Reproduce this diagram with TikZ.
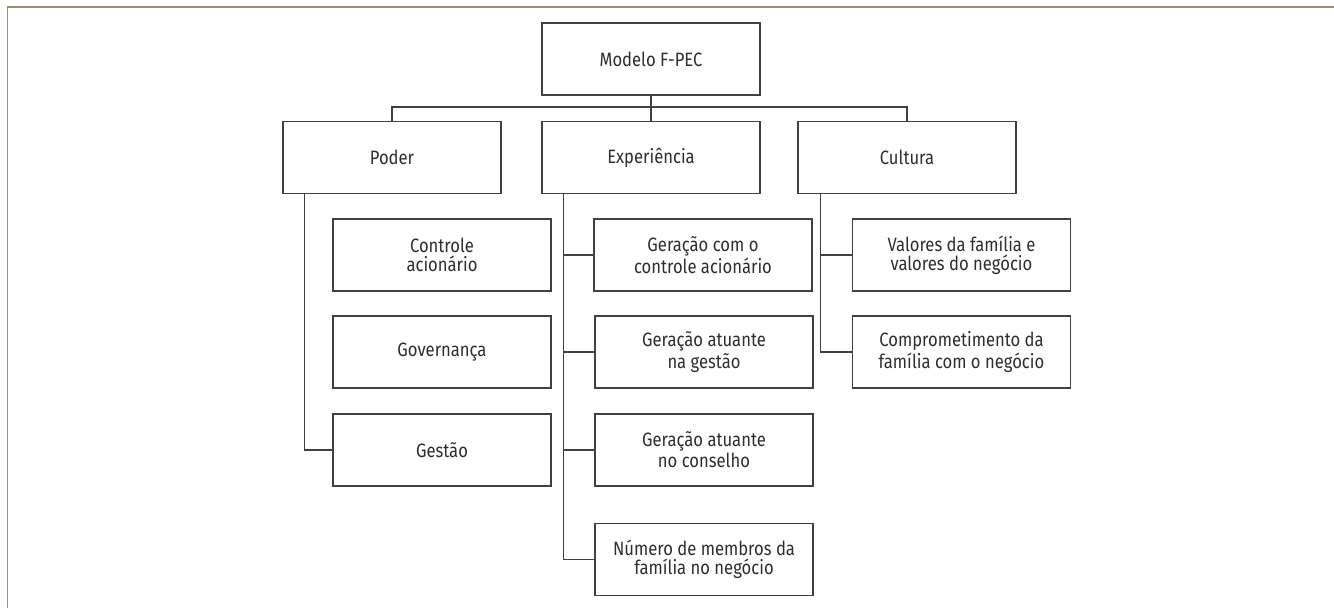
\documentclass[tikz,border=0pt]{standalone}
\usepackage{fontspec}
\setmainfont[FakeStretch=0.86]{Fira Sans}
\usepackage{xcolor}
\usepackage{tikz}
\definecolor{framecol}{HTML}{A08B70}
\definecolor{inkcol}{HTML}{2E2E2E}

\begin{document}
\begin{tikzpicture}[x=0.02cm, y=-0.02cm,
  box/.style={draw=black!75, line width=0.65pt, text=inkcol, align=center, inner sep=0pt,
    minimum width=4.36cm, minimum height=1.44cm, font=\fontsize{11}{10.9}\selectfont},
  link/.style={draw=black!75, line width=0.65pt}]
\useasboundingbox (0,0) rectangle (1334,608);
\draw[framecol, line width=1pt] (7.5,608) -- (7.5,6.7) -- (1334,6.7);

\node[box] (modelo) at (651,59) {Modelo F-PEC};
\node[box] (poder) at (392,157.5) {Poder};
\node[box] (exp) at (651,157.5) {Experiência};
\node[box] (cult) at (907,157.5) {Cultura};

\node[box] (controle) at (442,255) {Controle\\acionário};
\node[box] (governanca) at (442,352) {Governança};
\node[box] (gestao) at (442,450) {Gestão};

\node[box] (gcontrole) at (703,255) {Geração com o\\controle acionário};
\node[box] (ggestao) at (704,352) {Geração atuante\\na gestão};
\node[box] (gconselho) at (704,450) {Geração atuante\\no conselho};
\node[box] (membros) at (704,559.5) {Número de membros da\\família no negócio};

\node[box] (valores) at (961.5,255) {Valores da família e\\valores do negócio};
\node[box] (compr) at (961.5,352) {Comprometimento da\\família com o negócio};

\coordinate (bus) at (651,107);
\draw[link] (poder.north) |- (bus) -| (cult.north);
\draw[link] (modelo.south) -- (exp.north);

\draw[link] ([xshift=0.44cm]poder.south west) |- (gestao.west);
\foreach \n in {gcontrole,ggestao,gconselho,membros}
  \draw[link] ([xshift=0.44cm]exp.south west) |- (\n.west);
\foreach \n in {valores,compr}
  \draw[link] ([xshift=0.46cm]cult.south west) |- (\n.west);

\end{tikzpicture}
\end{document}
